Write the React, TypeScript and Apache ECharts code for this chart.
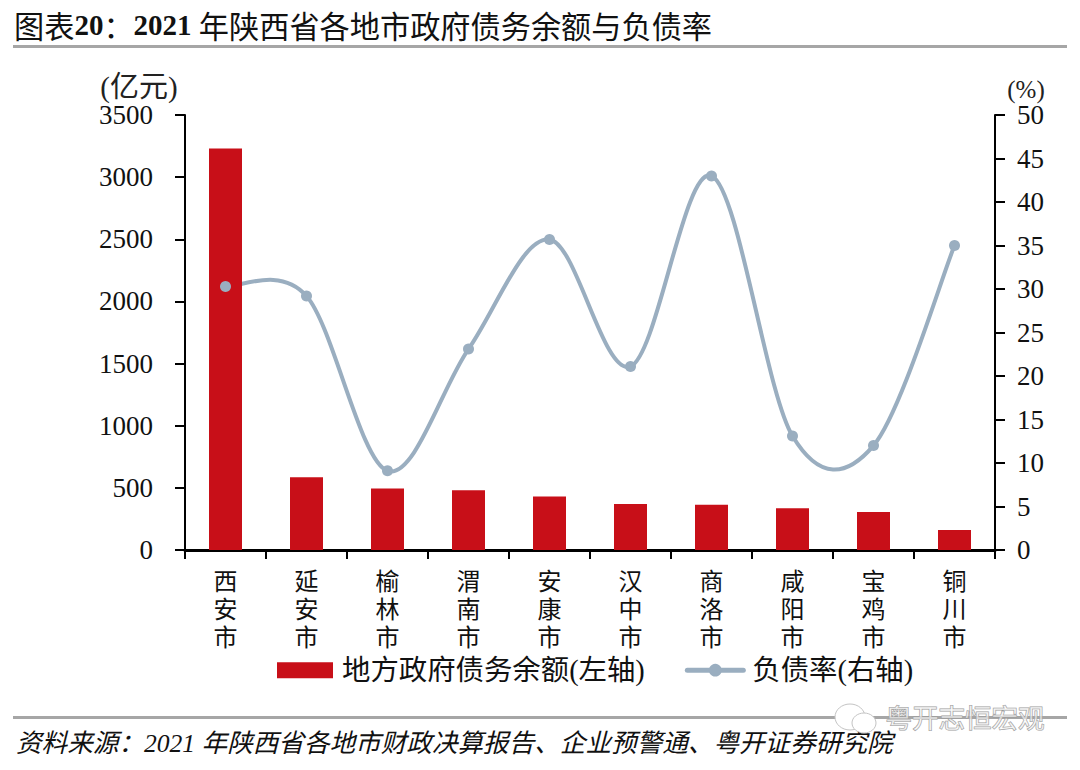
import React, { useEffect, useRef } from "react";
import * as echarts from "echarts";

const cities = ["西安市", "延安市", "榆林市", "渭南市", "安康市", "汉中市", "商洛市", "咸阳市", "宝鸡市", "铜川市"];
const debt = [3230, 585, 495, 480, 430, 370, 365, 335, 305, 160];
const ratio = [30.3, 29.2, 9.1, 23.1, 35.7, 21.1, 43, 13.1, 12, 35];
const sourceText = "资料来源：2021 年陕西省各地市财政决算报告、企业预警通、粤开证券研究院";
const debtName = "地方政府债务余额(左轴)";
const ratioName = "负债率(右轴)";
const watermark = "粤开志恒宏观";

const FONT = '"Liberation Serif", "Noto Sans CJK SC", serif';
const LINE = "#9AAEC0";

// Curve through the points, with tangents taken from the neighbouring points
function renderCurve(params: any, api: any) {
  const i = params.dataIndex;
  if (i >= ratio.length - 1) return null;
  const at = (k: number) => {
    const j = Math.max(0, Math.min(ratio.length - 1, k));
    return api.coord([j, ratio[j]]);
  };
  const p0 = at(i - 1), p1 = at(i), p2 = at(i + 1), p3 = at(i + 2);
  return {
    type: "bezierCurve",
    shape: {
      x1: p1[0], y1: p1[1], x2: p2[0], y2: p2[1],
      cpx1: p1[0] + (p2[0] - p0[0]) / 6, cpy1: p1[1] + (p2[1] - p0[1]) / 6,
      cpx2: p2[0] - (p3[0] - p1[0]) / 6, cpy2: p2[1] - (p3[1] - p1[1]) / 6,
    },
    style: { stroke: LINE, lineWidth: 4, fill: "none", lineCap: "round" },
  };
}

export default function App() {
  const ref = useRef<HTMLDivElement>(null);
  useEffect(() => {
    document.body.style.margin = "0";
    const chart = echarts.init(ref.current!, null, { renderer: "svg" });
    chart.setOption({
      animation: false,
      textStyle: { fontFamily: FONT },
      grid: { left: 185, right: 85, top: 115, bottom: 220, containLabel: false },
      xAxis: {
        type: "category",
        data: cities,
        axisLine: { lineStyle: { color: "#000", width: 3 } },
        axisTick: { show: true, length: 9, alignWithLabel: false, lineStyle: { color: "#000", width: 2 } },
        axisLabel: {
          interval: 0,
          color: "#111",
          fontSize: 24,
          lineHeight: 28,
          margin: 18,
          formatter: (v: string) => v.split("").join("\n"),
        },
      },
      yAxis: [
        {
          type: "value",
          min: 0,
          max: 3500,
          interval: 500,
          name: "(亿元)",
          nameLocation: "end",
          nameGap: 1,
          nameTextStyle: { color: "#222", fontSize: 29, align: "center", padding: [0, 0, 0, -92] },
          splitLine: { show: false },
          axisLine: { show: true, lineStyle: { color: "#000", width: 2 } },
          axisTick: { show: true, length: 10, lineStyle: { color: "#000", width: 2 } },
          axisLabel: { color: "#111", fontSize: 27, margin: 32, formatter: (v: number) => String(v) },
        },
        {
          type: "value",
          min: 0,
          max: 50,
          interval: 5,
          position: "right",
          name: "(%)",
          nameLocation: "end",
          nameGap: 3,
          nameTextStyle: { color: "#222", fontSize: 25, align: "center", padding: [0, 0, 0, 62] },
          splitLine: { show: false },
          axisLine: { show: true, lineStyle: { color: "#000", width: 2 } },
          axisTick: { show: true, length: 10, lineStyle: { color: "#000", width: 2 } },
          axisLabel: { color: "#111", fontSize: 27, margin: 22 },
        },
      ],
      legend: {
        left: 272,
        top: 651,
        itemGap: 40,
        itemWidth: 56,
        itemHeight: 16,
        textStyle: { color: "#111", fontSize: 28.4, fontFamily: FONT, padding: [0, 0, 0, 4] },
        data: [
          { name: debtName, icon: "rect" },
          { name: ratioName, lineStyle: { color: LINE, width: 5, opacity: 1, cap: "round" } },
        ],
      },
      series: [
        {
          name: debtName,
          type: "bar",
          data: debt,
          barWidth: 33,
          itemStyle: { color: "#C80F18" },
          yAxisIndex: 0,
        },
        {
          name: "curve",
          type: "custom",
          yAxisIndex: 1,
          data: ratio,
          clip: false,
          renderItem: renderCurve,
          silent: true,
        },
        {
          name: ratioName,
          type: "line",
          data: ratio,
          yAxisIndex: 1,
          symbol: "circle",
          symbolSize: 11,
          z: 5,
          itemStyle: { color: LINE },
          lineStyle: { color: LINE, width: 0, opacity: 0 },
        },
      ],
      graphic: [
        {
          type: "text",
          left: 14,
          top: 10,
          style: {
            text: "{c|图表}{l|20}{c|：}{l|2021} {c|年陕西省各地市政府债务余额与负债率}",
            rich: {
              c: { fontFamily: "Noto Sans CJK SC", fontSize: 30.2, fill: "#111" },
              l: { fontFamily: "Liberation Serif", fontWeight: "bold", fontSize: 29, fill: "#111" },
            },
            fontSize: 29,
            fontFamily: FONT,
            fill: "#111",
          },
        },
        { type: "rect", shape: { x: 13, y: 45, width: 1054, height: 3 }, style: { fill: "#A6A6A6" } },
        { type: "rect", shape: { x: 13, y: 716, width: 1054, height: 3 }, style: { fill: "#A6A6A6" } },
        {
          type: "text",
          left: 16,
          top: 731,
          style: { text: sourceText, fontFamily: FONT, fontStyle: "italic", fontSize: 25.6, fill: "#111" },
        },
        { type: "ellipse", shape: { cx: 850, cy: 717, rx: 15, ry: 13 }, style: { fill: "#fff", stroke: "#c4c4c4", lineWidth: 1 } },
        { type: "ellipse", shape: { cx: 864, cy: 723, rx: 12, ry: 10 }, style: { fill: "#fff", stroke: "#c4c4c4", lineWidth: 1 } },
        {
          type: "text",
          left: 885,
          top: 703,
          style: { text: watermark, fontFamily: "Noto Sans CJK SC", fontSize: 26.5, fill: "rgba(255,255,255,0.6)", stroke: "#9a9a9a", lineWidth: 1 },
        },
      ],
    });
    return () => chart.dispose();
  }, []);
  return <div ref={ref} style={{ width: 1080, height: 770 }} />;
}
